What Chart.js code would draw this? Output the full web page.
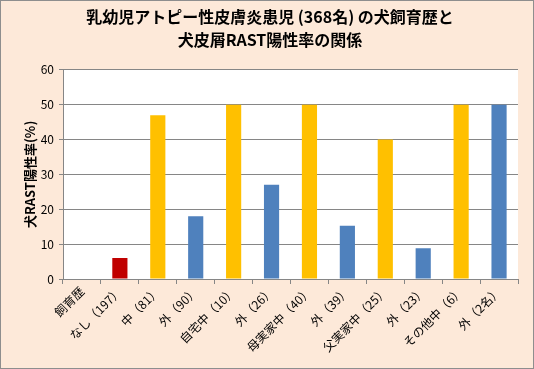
<!DOCTYPE html>
<html>
<head>
<meta charset="utf-8">
<script src="https://cdn.jsdelivr.net/npm/chart.js@4"></script>
<style>
  html, body { margin: 0; padding: 0; background: #fde9d9; }
  #wrap { width: 534px; height: 369px; }
</style>
</head>
<body>
<div id="wrap"><canvas id="graphique"></canvas></div>
<script>
const categories = ["飼育歴", "なし（197）", "中（81）", "外（90）", "自宅中（10）", "外（26）",
  "母実家中（40）", "外（39）", "父実家中（25）", "外（23）", "その他中（6）", "外（2名）"];
const positiveRate = [null, 6, 47, 18, 50, 27, 50, 15.3, 40, 8.8, 50, 50];
const yTicks = [0, 10, 20, 30, 40, 50, 60];
const titleLines = ["乳幼児アトピー性皮膚炎患児 (368名) の犬飼育歴と", "犬皮屑RAST陽性率の関係"];
const yTitle = "犬RAST陽性率(%)";

const RED = "#c00000";
const YELLOW = "#ffc000";
const BLUE = "#4f81bd";
const couleurs = ["#fff", RED, YELLOW, BLUE, YELLOW, BLUE, YELLOW, BLUE, YELLOW, BLUE, YELLOW, BLUE];

const fond = {
  id: "fond",
  beforeDraw(chart) {
    const { ctx, chartArea } = chart;
    ctx.save();
    ctx.fillStyle = "#fde9d9";
    ctx.fillRect(0, 0, chart.width, chart.height);
    ctx.fillStyle = "#ffffff";
    ctx.fillRect(chartArea.left, chartArea.top, chartArea.right - chartArea.left, chartArea.bottom - chartArea.top);
    ctx.restore();
  },
  afterDraw(chart) {
    const ctx = chart.ctx;
    ctx.save();
    ctx.strokeStyle = "#8e8e8e";
    ctx.lineWidth = 1;
    ctx.strokeRect(0.5, 0.5, chart.width - 1, chart.height - 1);
    ctx.restore();
  },
};

const police = "'Noto Sans CJK JP', sans-serif";

new Chart(document.querySelector("#graphique"), {
  type: "bar",
  data: {
    labels: categories,
    datasets: [
      {
        label: yTitle,
        data: positiveRate,
        backgroundColor: couleurs,
        barPercentage: 0.4,
        categoryPercentage: 1,
      },
    ],
  },
  options: {
    responsive: true,
    maintainAspectRatio: false,
    animation: false,
    layout: { padding: { top: 6, right: 16, left: 22, bottom: 0 } },
    plugins: {
      legend: { display: false },
      tooltip: { enabled: false },
      title: {
        display: true,
        text: titleLines,
        color: "#000",
        font: { family: police, size: 16, weight: "bold", lineHeight: 1.4 },
        padding: { top: 0, bottom: 19 },
      },
    },
    scales: {
      x: {
        grid: { offset: true, drawOnChartArea: false, drawTicks: true, tickLength: 5, color: "#868686" },
        border: { color: "#868686" },
        ticks: {
          color: "#000",
          font: { family: police, size: 12 },
          minRotation: 45,
          maxRotation: 45,
          padding: 0,
          autoSkip: false,
        },
        afterFit: (s) => { s.height = 90; },
      },
      y: {
        min: 0,
        max: 60,
        afterBuildTicks: (s) => { s.ticks = yTicks.map((v) => ({ value: v })); },
        grid: { color: "#868686", tickLength: 4 },
        border: { color: "#868686" },
        ticks: { color: "#000", font: { family: police, size: 12 }, padding: 5 },
        title: {
          display: true,
          text: yTitle,
          color: "#000",
          font: { family: police, size: 13, weight: "bold" },
          padding: 0,
        },
        afterFit: (s) => { s.width = 41; },
      },
    },
  },
  plugins: [fond],
});
</script>
</body>
</html>
